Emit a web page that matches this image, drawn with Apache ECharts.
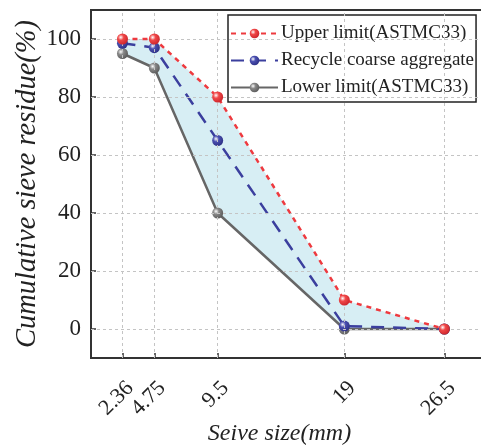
<!DOCTYPE html>
<html><head><meta charset="utf-8">
<script src="https://cdn.jsdelivr.net/npm/echarts@6/dist/echarts.min.js"></script>
<style>html,body{margin:0;padding:0;background:#fff}#chart{width:481px;height:446px}</style>
</head><body><div id="chart"></div>
<script>
// Sieve sizes (mm) and cumulative residue (%) for the grading curves
const sieveSizes = [2.36, 4.75, 9.5, 19, 26.5];
const upperLimit = [100, 100, 80, 10, 0];
const recycledAggregate = [98.5, 97, 65, 1, 0];
const lowerLimit = [95, 90, 40, 0, 0];
const yTicks = [0, 20, 40, 60, 80, 100];
const seriesNames = ['Upper limit(ASTMC33)', 'Recycle coarse aggregate', 'Lower limit(ASTMC33)'];

const serif = '"Liberation Serif", "DejaVu Serif", serif';

function pairs(xs, ys) { return xs.map((x, i) => [x, ys[i]]); }
function sphere(base, dark) {
  return {
    type: 'radial', x: 0.35, y: 0.35, r: 0.75,
    colorStops: [
      { offset: 0, color: '#ffffff' },
      { offset: 0.35, color: base },
      { offset: 1, color: dark }
    ]
  };
}

// Envelope between the upper and lower grading limits
function renderEnvelope(params, api) {
  const top = sieveSizes.map((x, i) => api.coord([x, upperLimit[i]]));
  const bottom = sieveSizes.map((x, i) => api.coord([x, lowerLimit[i]])).reverse();
  return {
    type: 'polygon',
    shape: { points: top.concat(bottom) },
    style: { fill: '#d5edf3', opacity: 0.95 }
  };
}

const chart = echarts.init(document.getElementById('chart'), null, { renderer: 'canvas' });
chart.setOption({
  animation: false,
  backgroundColor: '#fff',
  grid: {
    left: 91, right: -10, top: 10, bottom: 88,
    outerBoundsMode: 'none', containLabel: false,
    show: true, borderColor: '#333', borderWidth: 2, backgroundColor: 'transparent'
  },
  legend: {
    data: seriesNames,
    orient: 'vertical',
    left: 228, top: 15,
    backgroundColor: '#fff',
    borderColor: '#222', borderWidth: 1.5, borderRadius: 0,
    padding: [9, 2, 5, 2],
    itemGap: 8,
    itemWidth: 47, itemHeight: 12,
    textStyle: { fontFamily: serif, fontSize: 19, color: '#222', padding: [0, 0, 0, -2] }
  },
  xAxis: {
    type: 'value', min: 0, max: 30,
    name: 'Seive size(mm)', nameLocation: 'middle', nameGap: 64, nameMoveOverlap: false,
    nameTextStyle: { fontFamily: serif, fontStyle: 'italic', fontSize: 24, color: '#222', padding: [0, 23, 0, 0] },
    axisLine: { show: true, onZero: false, lineStyle: { color: '#333', width: 2 } },
    axisTick: { show: true, inside: true, length: 5, customValues: sieveSizes, lineStyle: { color: '#333', width: 1.5 } },
    axisLabel: {
      customValues: sieveSizes, rotate: 45, verticalAlign: 'top',
      fontFamily: serif, fontSize: 22, color: '#222', margin: 19
    },
    splitLine: { show: false }
  },
  yAxis: {
    type: 'value', min: -10, max: 110,
    name: 'Cumulative sieve residue(%)', nameLocation: 'middle', nameGap: 49, nameMoveOverlap: false,
    nameTextStyle: { fontFamily: serif, fontStyle: 'italic', fontSize: 28.5, color: '#222' },
    axisLine: { show: true, onZero: false, lineStyle: { color: '#333', width: 2 } },
    axisTick: { show: true, inside: true, length: 5, customValues: yTicks, lineStyle: { color: '#333', width: 1.5 } },
    axisLabel: { customValues: yTicks, fontFamily: serif, fontSize: 23, color: '#222', margin: 10 },
    splitLine: { show: false }
  },
  series: [
    {
      name: 'envelope', type: 'custom', data: [[0, 0]], z: 1, silent: true,
      renderItem: renderEnvelope
    },
    {
      name: 'gridlines', type: 'line', data: [], silent: true, z: 2,
      markLine: {
        silent: true, symbol: 'none', label: { show: false },
        lineStyle: { color: '#c4c4c4', type: [3, 3], width: 1 },
        data: yTicks.map(v => ({ yAxis: v })).concat(sieveSizes.map(v => ({ xAxis: v })))
      }
    },
    {
      name: seriesNames[2], type: 'line', data: pairs(sieveSizes, lowerLimit), z: 3,
      symbol: 'circle', symbolSize: 11,
      lineStyle: { color: '#666', width: 2.5 },
      itemStyle: { color: sphere('#888', '#555'), borderWidth: 0 }
    },
    {
      name: seriesNames[1], type: 'line', data: pairs(sieveSizes, recycledAggregate), z: 4,
      symbol: 'circle', symbolSize: 11,
      lineStyle: { color: '#3b3f9e', width: 2.5, type: [13, 9] },
      itemStyle: { color: sphere('#4a4fb0', '#2a2d80'), borderWidth: 0 }
    },
    {
      name: seriesNames[0], type: 'line', data: pairs(sieveSizes, upperLimit), z: 5,
      symbol: 'circle', symbolSize: 11,
      lineStyle: { color: '#ee3a3f', width: 2.5, type: [5, 5] },
      itemStyle: { color: sphere('#f04848', '#c82028'), borderWidth: 0 }
    }
  ]
});
</script></body></html>
